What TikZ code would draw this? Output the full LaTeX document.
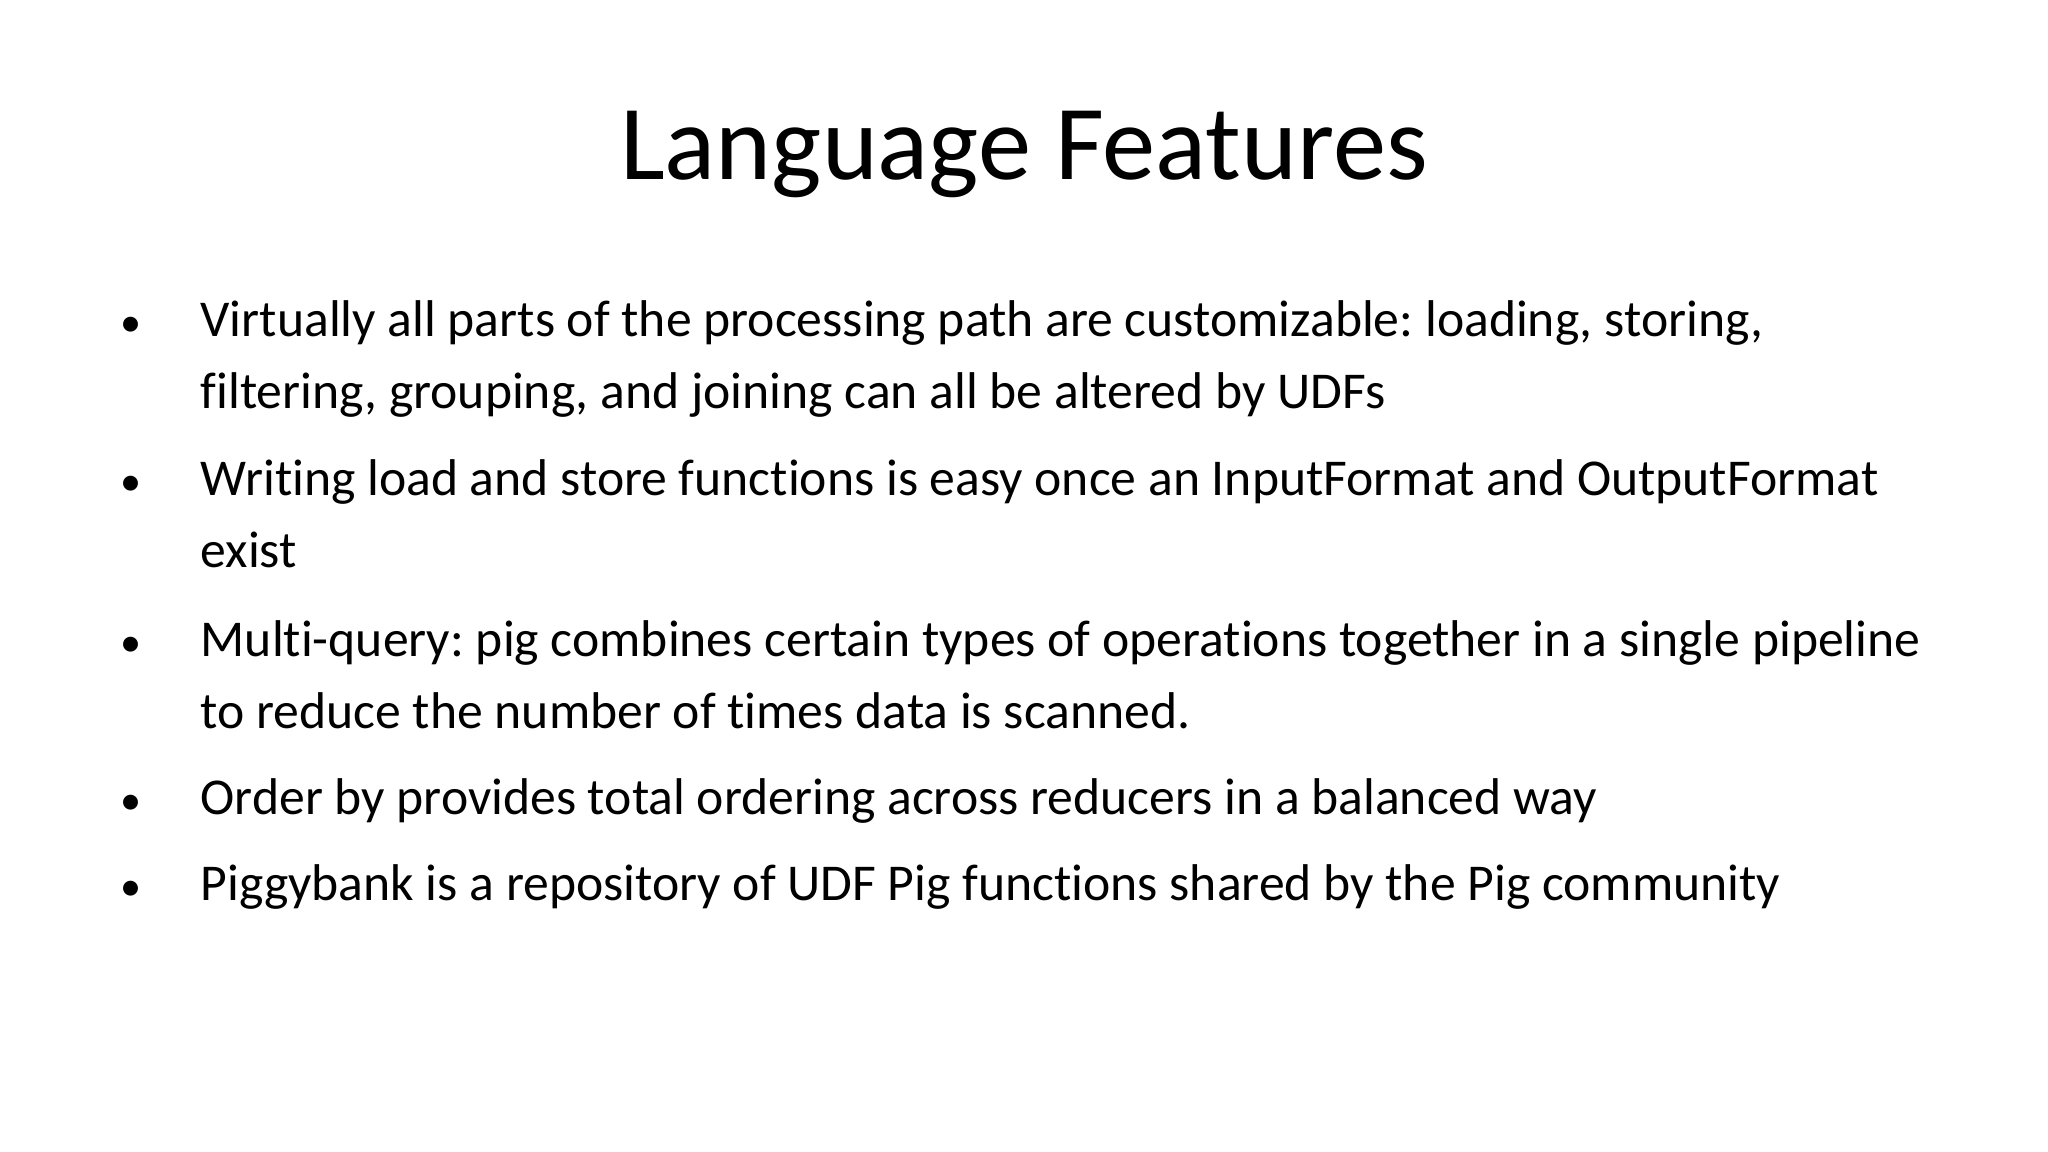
\documentclass[tikz,border=0pt]{standalone}
\usepackage{fontspec}
\setmainfont{Carlito}[RawFeature=-liga]
\frenchspacing
\begin{document}
\begin{tikzpicture}[x=1cm,y=1cm,
  line/.style={anchor=base west,inner sep=0pt,font=\fontsize{14.7}{17}\selectfont},
  bul/.style={anchor=base,inner sep=0pt,font=\fontsize{12}{17}\selectfont}]
\useasboundingbox (0,0) rectangle (20.48,11.52);
\node[anchor=base,inner sep=0pt,font=\fontsize{30.3}{36}\selectfont] (title) at (10.24,11.52-1.80) {Language Features};
\node[bul] (b1) at (1.31,11.52-3.37) {•};
\node[line] (l1) at (2.0,11.52-3.37) {Virtually all parts of the processing path are customizable: loading, storing,};
\node[line] (l2) at (2.0,11.52-4.09) {filtering, grouping, and joining can all be altered by UDFs};
\node[bul] (b2) at (1.31,11.52-4.96) {•};
\node[line] (l3) at (2.0,11.52-4.96) {Writing load and store functions is easy once an InputFormat and OutputFormat};
\node[line] (l4) at (2.0,11.52-5.68) {exist};
\node[bul] (b3) at (1.31,11.52-6.57) {•};
\node[line] (l5) at (2.0,11.52-6.57) {Multi-query: pig combines certain types of operations together in a single pipeline};
\node[line] (l6) at (2.0,11.52-7.29) {to reduce the number of times data is scanned.};
\node[bul] (b4) at (1.31,11.52-8.15) {•};
\node[line] (l7) at (2.0,11.52-8.15) {Order by provides total ordering across reducers in a balanced way};
\node[bul] (b5) at (1.31,11.52-9.01) {•};
\node[line] (l8) at (2.0,11.52-9.01) {Piggybank is a repository of UDF Pig functions shared by the Pig community};
\end{tikzpicture}
\end{document}
